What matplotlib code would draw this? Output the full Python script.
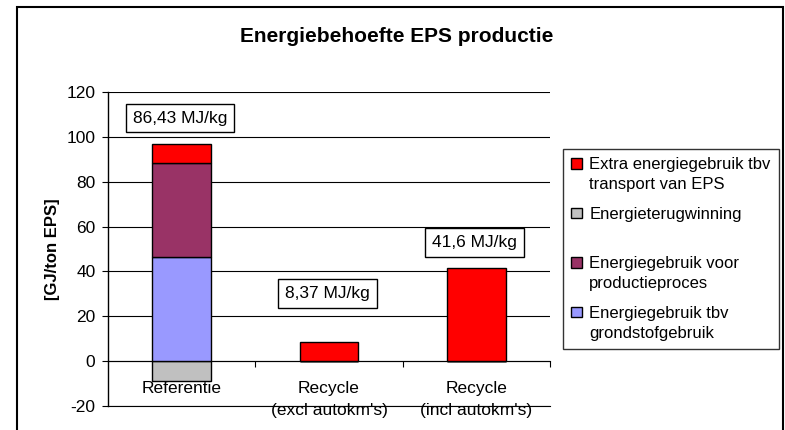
import matplotlib
matplotlib.use("Agg")
import matplotlib.pyplot as plt
from matplotlib.patches import Rectangle, Patch
from matplotlib.legend_handler import HandlerBase

plt.rcParams['font.family'] = ['Liberation Sans', 'DejaVu Sans']
plt.rcParams['axes.unicode_minus'] = False

# ---- data ----
categories = ["Referentie", "Recycle\n(excl autokm's)", "Recycle\n(incl autokm's)"]
grondstof = [46.5, 0, 0]        # Energiegebruik tbv grondstofgebruik
productie = [41.8, 0, 0]        # Energiegebruik voor productieproces
terugwinning = [-8.7, 0, 0]     # Energieterugwinning
transport = [8.4, 8.37, 41.6]   # Extra energiegebruik tbv transport van EPS
totals = [86.43, 8.37, 41.6]    # MJ/kg labels
yticks = [-20, 0, 20, 40, 60, 80, 100, 120]

labels = {
    'transport': "Extra energiegebruik tbv\ntransport van EPS",
    'terug': "Energieterugwinning\n ",
    'prod': "Energiegebruik voor\nproductieproces",
    'grond': "Energiegebruik tbv\ngrondstofgebruik",
}
colors = {'transport': '#FF0000', 'terug': '#C0C0C0', 'prod': '#993366', 'grond': '#9999FF'}

W, H = 785, 430
fig = plt.figure(figsize=(W / 100, H / 100), dpi=100)
ax = fig.add_axes([108 / W, 1 - 406 / H, (550 - 108) / W, (406 - 92) / H])

x = list(range(len(categories)))
bw = 0.4
ek = dict(edgecolor='black', linewidth=1.0, zorder=3)
ax.bar(x, terugwinning, bw, color=colors['terug'], label=labels['terug'], **ek)
ax.bar(x, grondstof, bw, color=colors['grond'], label=labels['grond'], **ek)
ax.bar(x, productie, bw, bottom=grondstof, color=colors['prod'], label=labels['prod'], **ek)
bottom2 = [g + p for g, p in zip(grondstof, productie)]
ax.bar(x, transport, bw, bottom=bottom2, color=colors['transport'], label=labels['transport'], **ek)

ax.set_xlim(-0.5, len(categories) - 0.5)
ax.set_ylim(yticks[0], yticks[-1])
ax.set_yticks(yticks)
ax.yaxis.grid(True, color='black', linewidth=0.8, zorder=0)
ax.axhline(yticks[0], color='black', linewidth=0.8, clip_on=False, zorder=1)
ax.set_axisbelow(True)

for s in ['top', 'right']:
    ax.spines[s].set_visible(False)
ax.spines['bottom'].set_position(('data', 0))
ax.spines['bottom'].set_linewidth(0.8)
ax.spines['left'].set_linewidth(1.0)

ax.set_xticks(x)
ax.set_xticklabels(categories, fontsize=12.5, linespacing=1.6)
ax.set_xticks([i + 0.5 for i in x], minor=True)
ax.tick_params(axis='x', which='major', length=0, pad=14)
ax.tick_params(axis='x', which='minor', length=4, direction='out', width=0.8)
ax.tick_params(axis='y', length=4, width=0.8, labelsize=12.5, pad=5)

ax.set_ylabel("[GJ/ton EPS]", fontsize=12, fontweight='bold', labelpad=5)

# annotation boxes
ann_y = [108.4, 30.2, 52.9]
for i, (t, yy) in enumerate(zip(totals, ann_y)):
    txt = f"{t:g}".replace('.', ',') + " MJ/kg"
    ax.text(i - 0.01, yy, txt, ha='center', va='center', fontsize=12.5, zorder=5,
            bbox=dict(boxstyle='square,pad=0.4', facecolor='white', edgecolor='black', linewidth=1.0))

fig.text(397 / W, 1 - 36 / H, "Energiebehoefte EPS productie", ha='center', va='center',
         fontsize=15, fontweight='bold')


class UpHandler(HandlerBase):
    def create_artists(self, legend, orig_handle, xdescent, ydescent, width, height, fontsize, trans):
        s = 0.62 * fontsize
        p = Rectangle((-xdescent, -ydescent + height / 2 - s / 2 + 0.68 * fontsize), s, s,
                      facecolor=orig_handle.get_facecolor(), edgecolor='black', linewidth=1.0,
                      transform=trans)
        return [p]


order = ['transport', 'terug', 'prod', 'grond']
handles = [Patch(facecolor=colors[k]) for k in order]
leg = fig.legend(handles, [labels[k] for k in order], loc='upper left',
                 bbox_to_anchor=(563 / W, 1 - 149 / H), fontsize=12,
                 handler_map={Patch: UpHandler()}, handlelength=0.62, handletextpad=0.45,
                 labelspacing=0.88, borderpad=0.5, borderaxespad=0, fancybox=False,
                 frameon=True, edgecolor='black')
for t in leg.get_texts():
    t.set_linespacing(1.4)
leg.get_frame().set_linewidth(1.0)

# figure border
fig.patches.append(Rectangle((17 / W, -0.05), (783 - 17) / W, 1.05 - 7 / H,
                             transform=fig.transFigure, fill=False, edgecolor='black',
                             linewidth=1.5, clip_on=False))

fig.savefig("out.png", dpi=100)
